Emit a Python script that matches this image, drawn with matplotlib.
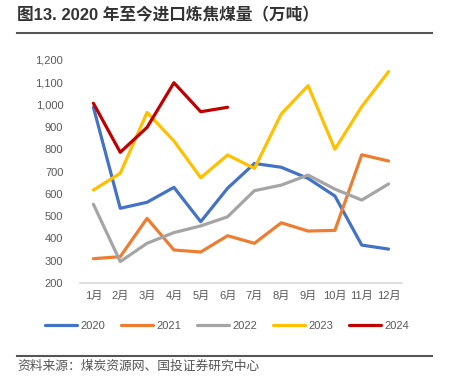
import matplotlib
matplotlib.use("Agg")
import matplotlib.pyplot as plt
from matplotlib.lines import Line2D

plt.rcParams['font.family'] = ['Liberation Sans', 'Noto Sans CJK SC', 'DejaVu Sans']

months = ["1月", "2月", "3月", "4月", "5月", "6月", "7月", "8月", "9月", "10月", "11月", "12月"]
v2020 = [988, 535, 562, 629, 475, 625, 736, 719, 669, 590, 370, 352]
v2021 = [309, 318, 490, 348, 339, 412, 378, 470, 433, 436, 775, 747]
v2022 = [553, 296, 378, 426, 456, 497, 614, 639, 684, 621, 572, 644]
v2023 = [617, 692, 965, 837, 672, 774, 714, 958, 1085, 800, 991, 1148]
v2024 = [1006, 786, 898, 1098, 968, 988]
yticks = [200, 300, 400, 500, 600, 700, 800, 900, 1000, 1100, 1200]

series = [("2020", v2020, "#4472C4"), ("2021", v2021, "#ED7D31"),
          ("2022", v2022, "#A5A5A5"), ("2023", v2023, "#FFC000"),
          ("2024", v2024, "#C00000")]

W, H = 454, 390
fig = plt.figure(figsize=(W / 100, H / 100), dpi=100)
ax = fig.add_axes([80 / W, 1 - 283 / H, 322 / W, (283 - 60) / H])

for name, vals, col in series:
    ax.plot(range(len(vals)), vals, color=col, lw=2.3, label=name, solid_capstyle='round')

ax.set_xlim(-0.5, 11.5)
ax.set_ylim(200, 1200)
ax.set_xticks(range(12))
ax.set_xticklabels(months)
ax.set_yticks(yticks)
ax.set_yticklabels([f"{t:,}" for t in yticks])
for s in ["top", "right", "left"]:
    ax.spines[s].set_visible(False)
ax.spines["bottom"].set_color("#d9d9d9")
ax.spines["bottom"].set_linewidth(1.2)
ax.tick_params(axis='both', length=0, labelsize=8, labelcolor="#595959")
ax.tick_params(axis='y', pad=12)
ax.tick_params(axis='x', pad=6)

handles = [Line2D([0], [0], color=c, lw=2.3, solid_capstyle='round') for _, _, c in series]
fig.legend(handles, [n for n, _, _ in series], loc='center', bbox_to_anchor=(0.5, 1 - 326 / H),
           ncol=5, frameon=False, fontsize=8, handlelength=2.9, columnspacing=1.4,
           handletextpad=0.3, labelcolor="#595959")

fig.text(17 / W, 1 - 15 / H, "图13. 2020 年至今进口炼焦煤量（万吨）", fontsize=12, fontweight='bold',
         color="#333333", va='center', ha='left')
fig.add_artist(Line2D([17 / W, 432 / W], [1 - 33 / H, 1 - 33 / H], color="#555555", lw=1.5))
fig.add_artist(Line2D([17 / W, 432 / W], [1 - 356 / H, 1 - 356 / H], color="#555555", lw=1.5))
fig.text(17 / W, 1 - 367 / H, "资料来源：煤炭资源网、国投证券研究中心", fontsize=9.2, color="#555555",
         va='center', ha='left', style='italic')

fig.savefig("out.png", dpi=100)
